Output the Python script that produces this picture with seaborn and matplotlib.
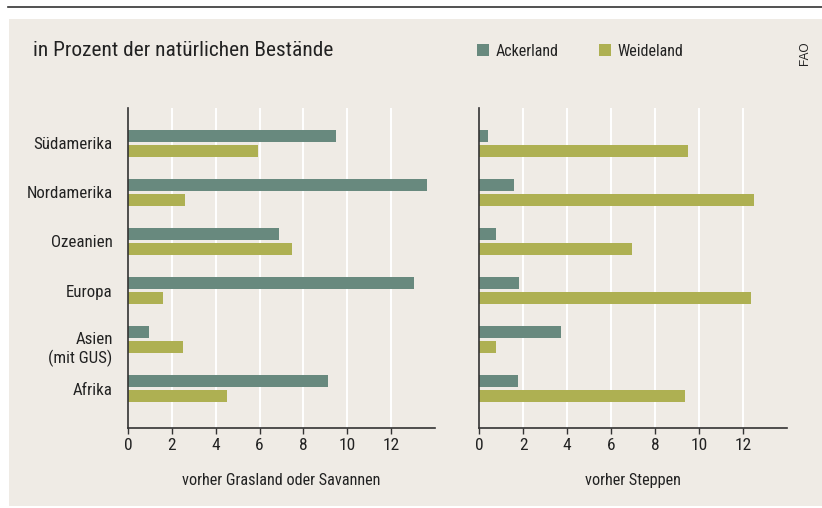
import matplotlib
matplotlib.use("Agg")
import matplotlib.pyplot as plt
from matplotlib.patches import Patch, Rectangle
from matplotlib.lines import Line2D
from matplotlib.transforms import ScaledTranslation, blended_transform_factory
import pandas as pd
import seaborn as sns

plt.rcParams["font.family"] = ["Roboto Condensed", "Fira Sans Condensed", "DejaVu Sans"]

regions = ["Südamerika", "Nordamerika", "Ozeanien", "Europa", "Asien", "Afrika"]
region_labels = ["Südamerika", "Nordamerika", "Ozeanien", "Europa", "Asien\n(mit GUS)", "Afrika"]
uses = ["Ackerland", "Weideland"]

# Anteil der umgewandelten Flächen, in Prozent der natürlichen Bestände
gras_acker = [9.5, 13.65, 6.9, 13.05, 0.95, 9.1]
gras_weide = [5.95, 2.6, 7.5, 1.6, 2.5, 4.5]
steppe_acker = [0.4, 1.6, 0.75, 1.8, 3.7, 1.75]
steppe_weide = [9.5, 12.5, 6.95, 12.35, 0.75, 9.35]

xticks = [0, 2, 4, 6, 8, 10, 12]

BG = "#efebe5"
ACKER = "#68897e"
WEIDE = "#aeb052"
INK = "#222222"
palette = {"Ackerland": ACKER, "Weideland": WEIDE}


def long_frame(acker, weide):
    return pd.DataFrame({
        "Region": regions * 2,
        "Nutzung": [uses[0]] * len(regions) + [uses[1]] * len(regions),
        "Prozent": list(acker) + list(weide),
    })


fig = plt.figure(figsize=(8.22, 5.08), dpi=100)
fig.patch.set_facecolor("white")
fig.patches.append(Rectangle((9 / 822, 2 / 508), 1 - 9 / 822, 1 - 21 / 508,
                             transform=fig.transFigure, facecolor=BG,
                             edgecolor="none", zorder=-10))
fig.lines.append(Line2D([8 / 822, 1], [1 - 6.5 / 508] * 2, transform=fig.transFigure,
                        color="#333333", linewidth=1.2))

ax_l = fig.add_axes([128 / 822, 1 - 428 / 508, 307 / 822, 320 / 508])
ax_r = fig.add_axes([479.3 / 822, 1 - 428 / 508, 307.7 / 822, 320 / 508])

panels = [
    (ax_l, long_frame(gras_acker, gras_weide), "vorher Grasland oder Savannen"),
    (ax_r, long_frame(steppe_acker, steppe_weide), "vorher Steppen"),
]

for ax, df, xlabel in panels:
    ax.set_facecolor(BG)
    sns.barplot(data=df, x="Prozent", y="Region", hue="Nutzung", order=regions,
                hue_order=uses, palette=palette, orient="h", width=0.612, gap=0.2,
                saturation=1, linewidth=0, legend=False, errorbar=None, ax=ax)
    ax.set_xlim(0, 14)
    ax.set_ylim(5.8, -0.72)
    ax.set_xticks(xticks)
    ax.set_xticklabels([str(t) for t in xticks], fontsize=12.5, color=INK)
    ax.tick_params(axis="x", direction="out", length=4, width=1.0, color="#333333", pad=3.5)
    ax.tick_params(axis="y", length=0)
    for t in xticks[1:]:
        ax.axvline(t, color="white", linewidth=1.4, zorder=0)
    for side in ("top", "right"):
        ax.spines[side].set_visible(False)
    for side in ("left", "bottom"):
        ax.spines[side].set_color("#333333")
        ax.spines[side].set_linewidth(1.2)
    ax.set_xlabel(xlabel, fontsize=11.7, color=INK, labelpad=14)
    ax.set_ylabel("")

# Region names; the two-line label hangs below its group centre
ax_l.set_yticks(range(len(regions)))
ax_l.set_yticklabels([lab if "\n" not in lab else "" for lab in region_labels],
                     fontsize=12.2, color=INK)
ax_l.tick_params(axis="y", pad=11)
label_trans = blended_transform_factory(ax_l.transAxes, ax_l.transData)
for i, lab in enumerate(region_labels):
    if "\n" in lab:
        ax_l.text(0, i, lab, fontsize=12.2, color=INK, ha="right", va="top",
                  multialignment="right", linespacing=1.15,
                  transform=label_trans + ScaledTranslation(-11 / 72, 5.3 / 72,
                                                            fig.dpi_scale_trans))
ax_r.set_yticks([])

fig.text(33 / 822, 1 - 50 / 508, "in Prozent der natürlichen Bestände",
         fontsize=15.4, color=INK, va="center", ha="left")

handles = [Patch(facecolor=palette[u], edgecolor="none", label=u) for u in uses]
fig.legend(handles=handles, loc="center left", bbox_to_anchor=(477 / 822, 1 - 51 / 508),
           ncol=2, frameon=False, fontsize=11.5, handlelength=0.75, handleheight=0.75,
           handletextpad=0.4, columnspacing=2.55, borderpad=0, borderaxespad=0,
           labelcolor=INK)

fig.text(805 / 822, 1 - 53 / 508, "FAO", rotation=90, fontsize=8.5, color=INK,
         family=["Liberation Sans", "DejaVu Sans"], ha="center", va="center")

fig.savefig("out.png", dpi=100, facecolor=fig.get_facecolor())
